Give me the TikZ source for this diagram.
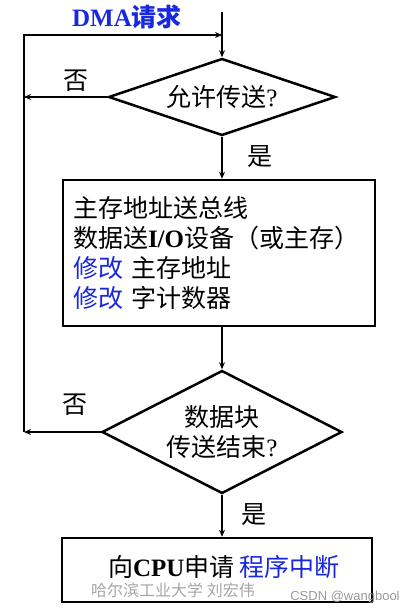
\documentclass[tikz,border=0pt]{standalone}
\usepackage{fontspec}
\setmainfont{Liberation Serif}
\newfontfamily\cjk{Noto Sans CJK SC}
\newfontfamily\wmfont{Liberation Sans}
\usetikzlibrary{shapes.geometric,arrows.meta}
\definecolor{hitblue}{RGB}{25,40,220}
\newcommand{\latb}[1]{{\rmfamily\bfseries #1}}

\begin{document}
\begin{tikzpicture}[
    x=1pt, y=-1pt,
    font=\cjk\fontsize{25}{30}\selectfont,
    line width=2.5pt,
    >={Stealth[length=7pt,width=6pt]},
    box/.style={rectangle, draw, line width=2.5pt},
    decision/.style={diamond, draw, inner sep=0pt, align=center},
    mark label/.style={inner sep=0pt}
]
    \useasboundingbox (0,0) rectangle (415,613);

    % Nodes
    \node[mark label] (request) at (127,17) {\bfseries\textcolor{hitblue}{\latb{DMA}请求}};
    \node[decision, minimum width=227pt, minimum height=77pt, aspect=2.95] (allow) at (222,97) {允许传送{\rmfamily ?}};
    \node[box, minimum width=312pt, minimum height=146pt, text width=292pt, inner xsep=10pt, align=left] (transfer) at (219,253)
        {主存地址送总线\\数据送\latb{I/O}设备（或主存\rlap{）}\\\textcolor{hitblue}{修改} 主存地址\\\textcolor{hitblue}{修改} 字计数器};
    \node[decision, minimum width=240pt, minimum height=123pt, aspect=1.95] (finish) at (222,432) {数据块\\传送结束{\rmfamily ?}};
    \node[box, minimum width=310pt, minimum height=64pt] (irq) at (217,570) {\raisebox{8pt}{\hspace*{14pt}向\latb{CPU}申请 \textcolor{hitblue}{程序中断}}};

    \node[mark label] (no1) at (76,81) {否};
    \node[mark label] (yes1) at (260,157) {是};
    \node[mark label] (no2) at (75,405) {否};
    \node[mark label] (yes2) at (254,515) {是};

    % watermarks
    \node[text=black!35, font=\cjk\fontsize{16}{16}\selectfont, inner sep=0pt] (hit) at (173,590) {哈尔滨工业大学 刘宏伟};
    \node[text=black!40, font=\wmfont\fontsize{13}{13}\selectfont, inner sep=0pt] (csdn) at (345,597) {CSDN @wangbool};

    \coordinate (start) at (222,12);
    \coordinate (merge) at (222,35);
    \coordinate (nohit) at (24,97);
    \coordinate (corner) at (24,432);

    % Arrows
    \draw (start) -- (merge);
    \draw[->] (merge) -- (allow.north);
    \draw[->] (allow.west) -- (nohit);
    \draw[->] (allow.south) -- (allow.south |- transfer.north);
    \draw[->] (transfer.south -| finish.north) -- (finish.north);
    \draw[->] (finish.west) -- (corner);
    \draw[->] (corner) |- (merge);
    \draw[->] (finish.south) -- (finish.south |- irq.north);
\end{tikzpicture}
\end{document}
